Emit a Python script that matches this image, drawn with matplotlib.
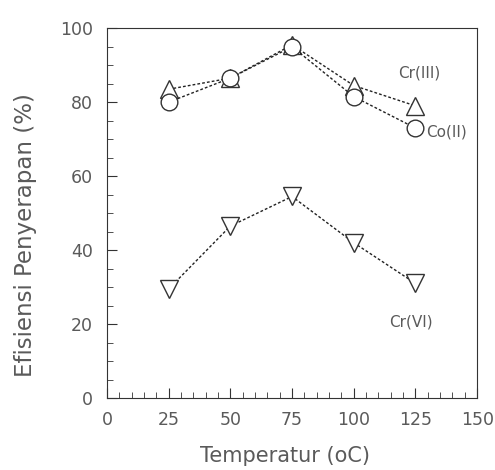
import matplotlib
matplotlib.use('Agg')
import matplotlib.pyplot as plt
from matplotlib.ticker import MultipleLocator

plt.rcParams['font.family'] = ['DejaVu Sans']

# data
temp = [25, 50, 75, 100, 125]
cr3 = [83.5, 86.5, 95.5, 84.5, 79]
co2 = [80, 86.5, 95, 81.5, 73]
cr6 = [29.5, 46.5, 54.5, 42, 31]

grey = '#5a5a5a'
dash = (0, (2, 1.5))

fig = plt.figure(figsize=(4.95, 4.70), dpi=100)
ax = fig.add_axes([0.216, 0.153, 0.748, 0.787])

ax.plot(temp, cr3, linestyle=dash, color='#222222', lw=1,
        marker='^', markersize=13, markerfacecolor='white', markeredgecolor='#333333', markeredgewidth=1)
ax.plot(temp, co2, linestyle=dash, color='#222222', lw=1,
        marker='o', markersize=12, markerfacecolor='white', markeredgecolor='#333333', markeredgewidth=1)
ax.plot(temp, cr6, linestyle=dash, color='#222222', lw=1,
        marker='v', markersize=13, markerfacecolor='white', markeredgecolor='#333333', markeredgewidth=1)

ax.text(118, 88, 'Cr(III)', fontsize=11, color=grey, va='center')
ax.text(129.5, 72, 'Co(II)', fontsize=11, color=grey, va='center', clip_on=False)
ax.text(114.5, 20.5, 'Cr(VI)', fontsize=11, color=grey, va='center')

ax.set_xlim(0, 150)
ax.set_ylim(0, 100)
ax.xaxis.set_major_locator(MultipleLocator(25))
ax.xaxis.set_minor_locator(MultipleLocator(5))
ax.yaxis.set_major_locator(MultipleLocator(20))
ax.yaxis.set_minor_locator(MultipleLocator(5))
ax.tick_params(which='both', direction='in', top=False, right=False, colors='#333333',
               labelcolor=grey, labelsize=12.5)
ax.tick_params(which='major', length=7)
ax.tick_params(which='minor', length=4)
ax.tick_params(axis='x', pad=9)
ax.tick_params(axis='y', pad=10)
for s in ax.spines.values():
    s.set_color('#333333')

ax.set_xlabel('Temperatur (oC)', fontsize=15, color=grey)
ax.set_ylabel('Efisiensi Penyerapan (%)', fontsize=16.5, color=grey)
ax.xaxis.set_label_coords(0.48, -0.13)
ax.yaxis.set_label_coords(-0.19, 0.44)

fig.savefig('out.png', dpi=100)
